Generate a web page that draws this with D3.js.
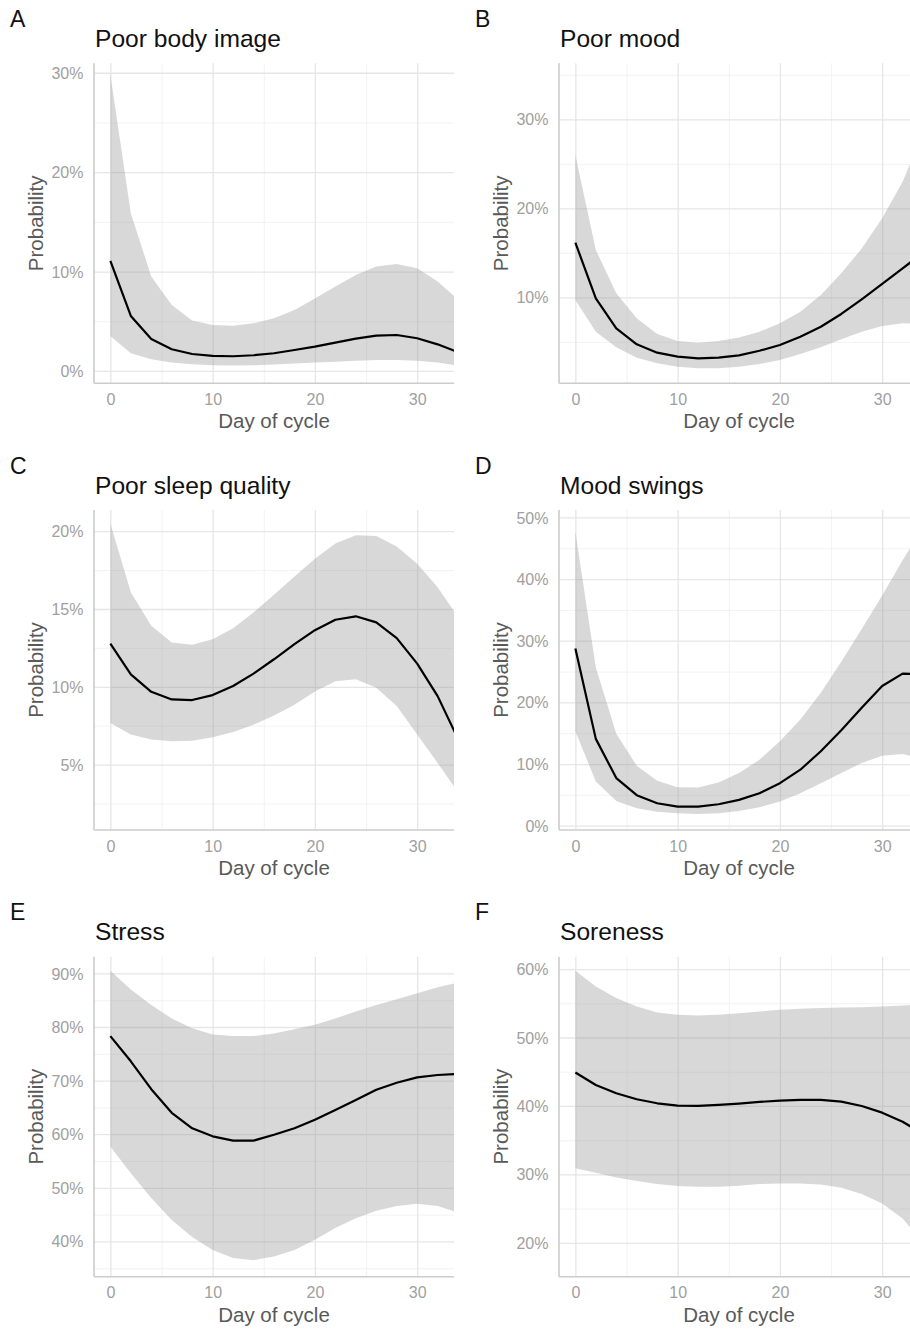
<!DOCTYPE html>
<html>
<head>
<meta charset="utf-8">
<script src="https://cdn.jsdelivr.net/npm/d3@7"></script>
<style>
  body { margin: 0; background: #fff; }
  svg { display: block; font-family: "Liberation Sans", Arial, Helvetica, sans-serif; }
</style>
</head>
<body>
<div id="chart"></div>
<script>
// Day of cycle (fitted every 2 days)
const days = [0, 2, 4, 6, 8, 10, 12, 14, 16, 18, 20, 22, 24, 26, 28, 30, 32, 34];
const dayTicks = [0, 10, 20, 30];
const dayRange = [-1.6, 33.6];

const letters = ["A", "B", "C", "D", "E", "F"];
const titles = ["Poor body image", "Poor mood", "Poor sleep quality", "Mood swings", "Stress", "Soreness"];

// probabilities in %
const bodyFit = [11.07, 5.54, 3.22, 2.18, 1.71, 1.51, 1.48, 1.58, 1.78, 2.11, 2.45, 2.85, 3.26, 3.56, 3.62, 3.29, 2.68, 1.89];
const bodyLo = [3.52, 1.78, 1.17, 0.84, 0.67, 0.57, 0.54, 0.57, 0.64, 0.74, 0.84, 0.94, 1.04, 1.1, 1.1, 1.04, 0.84, 0.54];
const bodyHi = [29.8, 15.87, 9.5, 6.64, 5.07, 4.63, 4.56, 4.8, 5.3, 6.14, 7.3, 8.5, 9.66, 10.5, 10.77, 10.34, 9.0, 7.19];
const bodyTicks = [0, 10, 20, 30];
const bodyRange = [-1.24, 30.95];

const moodFit = [16.14, 9.89, 6.52, 4.72, 3.78, 3.33, 3.15, 3.22, 3.48, 4.0, 4.64, 5.58, 6.7, 8.13, 9.78, 11.5, 13.26, 15.0];
const moodLo = [9.7, 6.14, 4.38, 3.22, 2.58, 2.21, 2.02, 2.02, 2.21, 2.51, 2.96, 3.63, 4.38, 5.28, 6.14, 6.78, 7.08, 7.0];
const moodHi = [26.0, 15.32, 10.45, 7.64, 5.88, 5.09, 4.9, 5.09, 5.5, 6.14, 7.08, 8.39, 10.26, 12.7, 15.5, 18.88, 23.0, 28.5];
const moodTicks = [10, 20, 30];
const moodRange = [0.34, 36.3];

const sleepFit = [12.78, 10.8, 9.68, 9.19, 9.15, 9.47, 10.05, 10.85, 11.77, 12.74, 13.64, 14.31, 14.53, 14.14, 13.13, 11.49, 9.4, 6.64];
const sleepLo = [7.68, 6.93, 6.61, 6.5, 6.54, 6.76, 7.1, 7.57, 8.16, 8.85, 9.7, 10.35, 10.48, 9.94, 8.76, 6.93, 5.1, 3.22];
const sleepHi = [20.49, 16.07, 13.92, 12.85, 12.7, 13.06, 13.77, 14.78, 15.92, 17.09, 18.23, 19.2, 19.73, 19.69, 19.02, 17.9, 16.4, 14.46];
const sleepTicks = [5, 10, 15, 20];
const sleepRange = [0.8, 21.36];

const swingFit = [28.75, 14.08, 7.72, 4.95, 3.64, 3.1, 3.1, 3.48, 4.18, 5.27, 6.9, 9.08, 12.07, 15.49, 19.13, 22.66, 24.67, 24.5];
const swingLo = [15.33, 7.17, 4.02, 2.83, 2.28, 2.01, 1.9, 2.01, 2.39, 2.99, 3.91, 5.27, 6.9, 8.53, 10.16, 11.36, 11.63, 10.8];
const swingHi = [47.66, 25.65, 14.9, 9.73, 7.28, 6.25, 6.2, 7.0, 8.53, 10.7, 13.7, 17.23, 21.58, 26.58, 31.9, 37.34, 43.04, 48.5];
const swingTicks = [0, 10, 20, 30, 40, 50];
const swingRange = [-0.7, 51.2];

const stressFit = [78.3, 73.6, 68.4, 64.0, 61.1, 59.6, 58.8, 58.8, 59.9, 61.1, 62.7, 64.5, 66.4, 68.3, 69.6, 70.6, 71.05, 71.24];
const stressLo = [57.7, 52.7, 48.1, 44.0, 40.8, 38.4, 36.9, 36.5, 37.2, 38.4, 40.3, 42.5, 44.3, 45.7, 46.6, 47.0, 46.6, 45.35];
const stressHi = [90.5, 87.0, 84.1, 81.6, 79.75, 78.6, 78.3, 78.3, 78.8, 79.6, 80.4, 81.6, 82.9, 84.1, 85.2, 86.3, 87.4, 88.3];
const stressTicks = [40, 50, 60, 70, 80, 90];
const stressRange = [33.41, 93.12];

const soreFit = [44.88, 43.07, 41.85, 40.98, 40.39, 40.05, 40.0, 40.15, 40.34, 40.59, 40.78, 40.88, 40.88, 40.63, 40.0, 39.02, 37.7, 35.9];
const soreLo = [30.88, 30.24, 29.56, 29.02, 28.59, 28.29, 28.2, 28.2, 28.34, 28.59, 28.68, 28.68, 28.54, 28.05, 27.12, 25.76, 23.56, 20.0];
const soreHi = [59.76, 57.46, 55.76, 54.54, 53.66, 53.32, 53.22, 53.32, 53.56, 53.8, 54.05, 54.2, 54.3, 54.39, 54.44, 54.54, 54.68, 54.9];
const soreTicks = [20, 30, 40, 50, 60];
const soreRange = [15.05, 61.81];

const panels = [
  { fit: bodyFit, lo: bodyLo, hi: bodyHi, ticks: bodyTicks, range: bodyRange },
  { fit: moodFit, lo: moodLo, hi: moodHi, ticks: moodTicks, range: moodRange },
  { fit: sleepFit, lo: sleepLo, hi: sleepHi, ticks: sleepTicks, range: sleepRange },
  { fit: swingFit, lo: swingLo, hi: swingHi, ticks: swingTicks, range: swingRange },
  { fit: stressFit, lo: stressLo, hi: stressHi, ticks: stressTicks, range: stressRange },
  { fit: soreFit, lo: soreLo, hi: soreHi, ticks: soreTicks, range: soreRange }
];

const width = 910;
const height = 1331;
const panelW = 465;
const panelH = 446.7;
const margin = { top: 63.3, left: 94 };
const plotW = 360;
const plotH = 320;

const svg = d3
  .select("#chart")
  .append("svg")
  .attr("width", width)
  .attr("height", height);

const x = d3.scaleLinear().domain(dayRange).range([0, plotW]);

// minor breaks halfway between the major ones
function minorOf(ticks, domain) {
  const step = ticks.length > 1 ? ticks[1] - ticks[0] : 10;
  const out = [];
  for (let v = ticks[0] - step / 2; v <= ticks[ticks.length - 1] + step / 2; v += step) {
    if (v > domain[0] && v < domain[1]) out.push(v);
  }
  return out;
}

panels.forEach((p, i) => {
  const col = i % 2;
  const row = Math.floor(i / 2);
  const g = svg
    .append("g")
    .attr("transform", `translate(${col * panelW},${row * panelH})`);

  g.append("text")
    .attr("x", 10)
    .attr("y", 27)
    .attr("fill", "#111")
    .style("font-size", "23px")
    .text(letters[i]);

  g.append("text")
    .attr("x", 95)
    .attr("y", 47)
    .attr("fill", "#111")
    .style("font-size", "24.6px")
    .text(titles[i]);

  const plot = g
    .append("g")
    .attr("transform", `translate(${margin.left},${margin.top})`);

  const y = d3.scaleLinear().domain(p.range).range([plotH, 0]);

  // minor grid
  plot
    .append("g")
    .attr("class", "minor")
    .call(d3.axisLeft(y).tickValues(minorOf(p.ticks, p.range)).tickSize(-plotW).tickFormat(""))
    .call((a) => a.select(".domain").remove())
    .selectAll("line")
    .attr("stroke", "#f0f0f0")
    .attr("stroke-width", 0.9);

  plot
    .append("g")
    .attr("class", "minor")
    .attr("transform", `translate(0,${plotH})`)
    .call(d3.axisBottom(x).tickValues(minorOf(dayTicks, dayRange)).tickSize(-plotH).tickFormat(""))
    .call((a) => a.select(".domain").remove())
    .selectAll("line")
    .attr("stroke", "#f0f0f0")
    .attr("stroke-width", 0.9);

  // major grid + tick labels
  const yAxis = plot
    .append("g")
    .call(
      d3.axisLeft(y)
        .tickValues(p.ticks)
        .tickSize(-plotW)
        .tickPadding(10.5)
        .tickFormat((d) => `${d}%`)
    );
  yAxis.select(".domain").remove();
  yAxis.selectAll("line").attr("stroke", "#e6e6e6").attr("stroke-width", 1.3);
  yAxis
    .selectAll("text")
    .attr("fill", "#a0a0a0")
    .attr("dy", "0.35em")
    .style("font-size", "16px")
    .style("font-family", "inherit");

  const xAxis = plot
    .append("g")
    .attr("transform", `translate(0,${plotH})`)
    .call(d3.axisBottom(x).tickValues(dayTicks).tickSize(-plotH).tickPadding(10.3));
  xAxis.select(".domain").remove();
  xAxis.selectAll("line").attr("stroke", "#e6e6e6").attr("stroke-width", 1.3);
  xAxis
    .selectAll("text")
    .attr("fill", "#a0a0a0")
    .style("font-size", "16px")
    .style("font-family", "inherit");

  // ribbon and fitted line, clipped to the panel
  plot
    .append("clipPath")
    .attr("id", `clip-${i}`)
    .append("rect")
    .attr("width", plotW)
    .attr("height", plotH);

  const rows = days.map((d, k) => ({ day: d, fit: p.fit[k], lo: p.lo[k], hi: p.hi[k] }));

  const marks = plot.append("g").attr("clip-path", `url(#clip-${i})`);

  marks
    .append("path")
    .datum(rows)
    .attr("fill", "#999")
    .attr("fill-opacity", 0.38)
    .attr(
      "d",
      d3.area()
        .x((d) => x(d.day))
        .y0((d) => y(d.lo))
        .y1((d) => y(d.hi))
    );

  marks
    .append("path")
    .datum(rows)
    .attr("fill", "none")
    .attr("stroke", "#000")
    .attr("stroke-width", 2.2)
    .attr("stroke-linejoin", "round")
    .attr(
      "d",
      d3.line()
        .x((d) => x(d.day))
        .y((d) => y(d.fit))
    );

  // axis lines
  plot
    .append("line")
    .attr("x1", 0)
    .attr("x2", 0)
    .attr("y1", 0)
    .attr("y2", plotH)
    .attr("stroke", "#cccccc")
    .attr("stroke-width", 1.6);
  plot
    .append("line")
    .attr("x1", 0)
    .attr("x2", plotW)
    .attr("y1", plotH)
    .attr("y2", plotH)
    .attr("stroke", "#cccccc")
    .attr("stroke-width", 1.6);

  // axis titles
  plot
    .append("text")
    .attr("x", plotW / 2)
    .attr("y", plotH + 45)
    .attr("text-anchor", "middle")
    .attr("fill", "#595959")
    .style("font-size", "20.5px")
    .text("Day of cycle");

  plot
    .append("text")
    .attr("transform", `translate(${43 - margin.left},${plotH / 2}) rotate(-90)`)
    .attr("text-anchor", "middle")
    .attr("fill", "#595959")
    .style("font-size", "20.5px")
    .text("Probability");
});
</script>
</body>
</html>
